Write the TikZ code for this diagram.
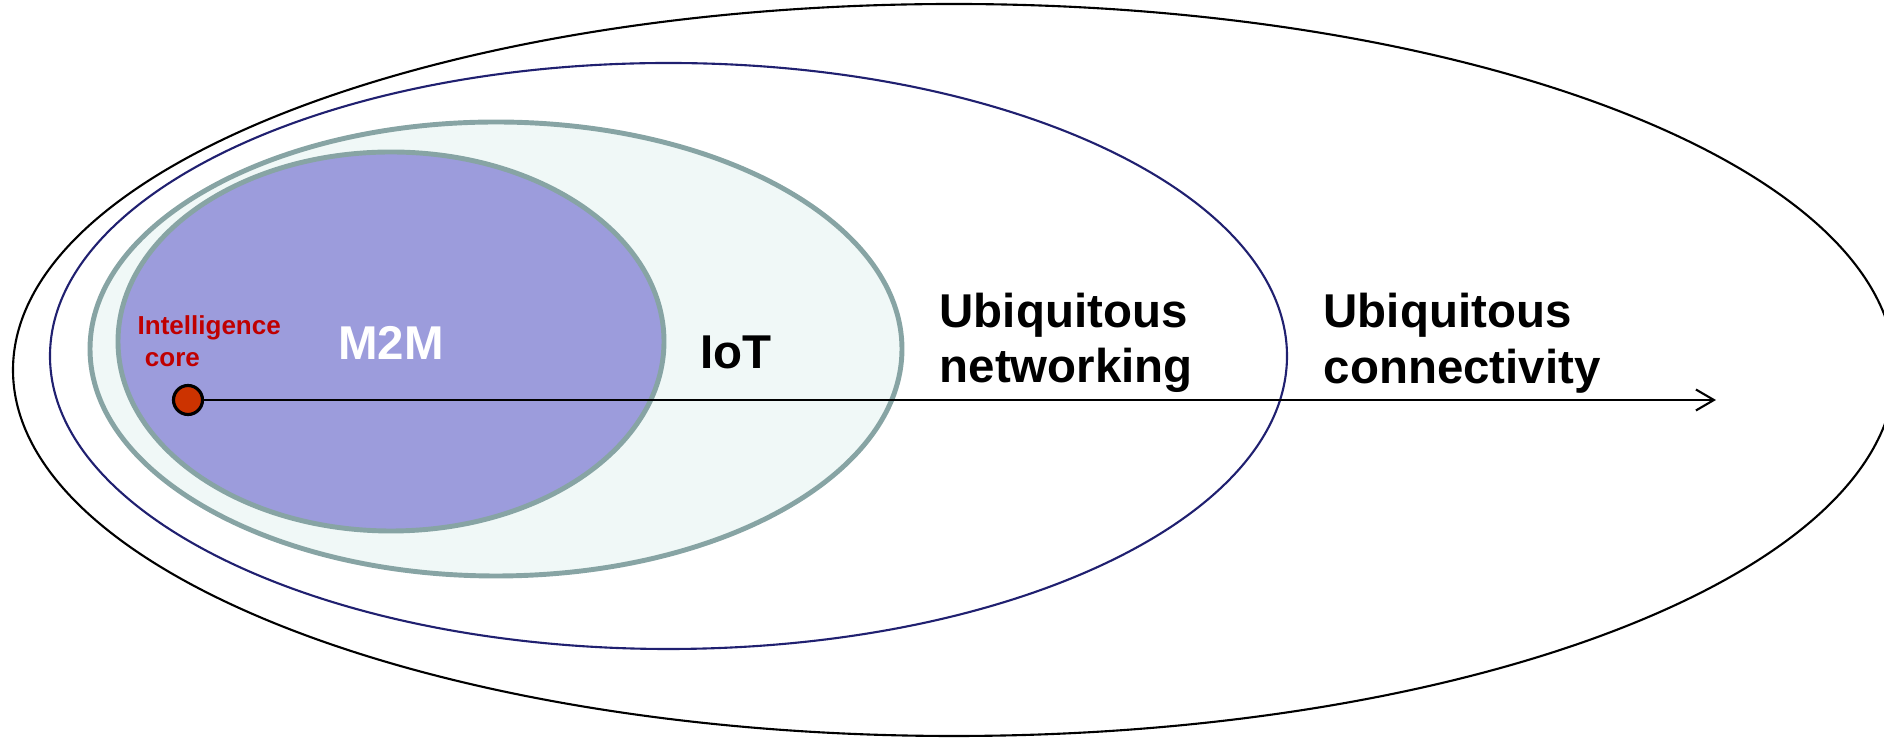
\documentclass[tikz,border=0pt]{standalone}
\usepackage{fontspec}
\setmainfont{Liberation Sans}
\usetikzlibrary{arrows.meta}
\definecolor{navyline}{RGB}{32,32,112}
\definecolor{tealline}{RGB}{135,164,164}
\definecolor{tealfill}{RGB}{240,248,247}
\definecolor{mmfill}{RGB}{156,156,220}
\definecolor{corefill}{RGB}{204,51,0}
\definecolor{corered}{RGB}{192,0,0}
\tikzset{
    label/.style={inner sep=0pt, font=\fontsize{13.5}{15.8}\selectfont\bfseries},
    bigring/.style={line width=1.4pt, draw=tealline},
}
\begin{document}
\begin{tikzpicture}
                \useasboundingbox (0,0) rectangle (18.84,7.42);
                \draw[line width=0.6pt] (9.54,3.72) ellipse (9.41 and 3.66);
                \draw[line width=0.6pt, navyline] (6.685,3.86) ellipse (6.185 and 2.93);
                \draw[bigring, fill=tealfill] (4.96,3.93) ellipse (4.06 and 2.27);
                \draw[bigring, fill=mmfill] (3.91,4.005) ellipse (2.73 and 1.895);
                \node[circle, draw, line width=0.9pt, fill=corefill, minimum size=0.29cm, inner sep=0pt] (core) at (1.88,3.42) {};
                \coordinate (tip) at (17.16,3.42);
                \draw[line width=0.6pt, -{Straight Barb[length=0.18cm, width=0.21cm]}] (core) -- (tip);
                \node[inner sep=0pt, anchor=west, align=left, text=corered, font=\fontsize{7.4}{9.2}\selectfont\bfseries] (intel) at (1.37,4.01) {Intelligence\\~core};
                \node[label, text=white] (m2m) at (3.91,3.99) {M2M};
                \node[label] (iot) at (7.36,3.90) {IoT};
                \node[label, anchor=west, align=left] (net) at (9.39,3.99) {Ubiquitous\\networking};
                \node[label, anchor=west, align=left] (conn) at (13.23,3.99) {Ubiquitous\\connectivity};
            \end{tikzpicture}
\end{document}
